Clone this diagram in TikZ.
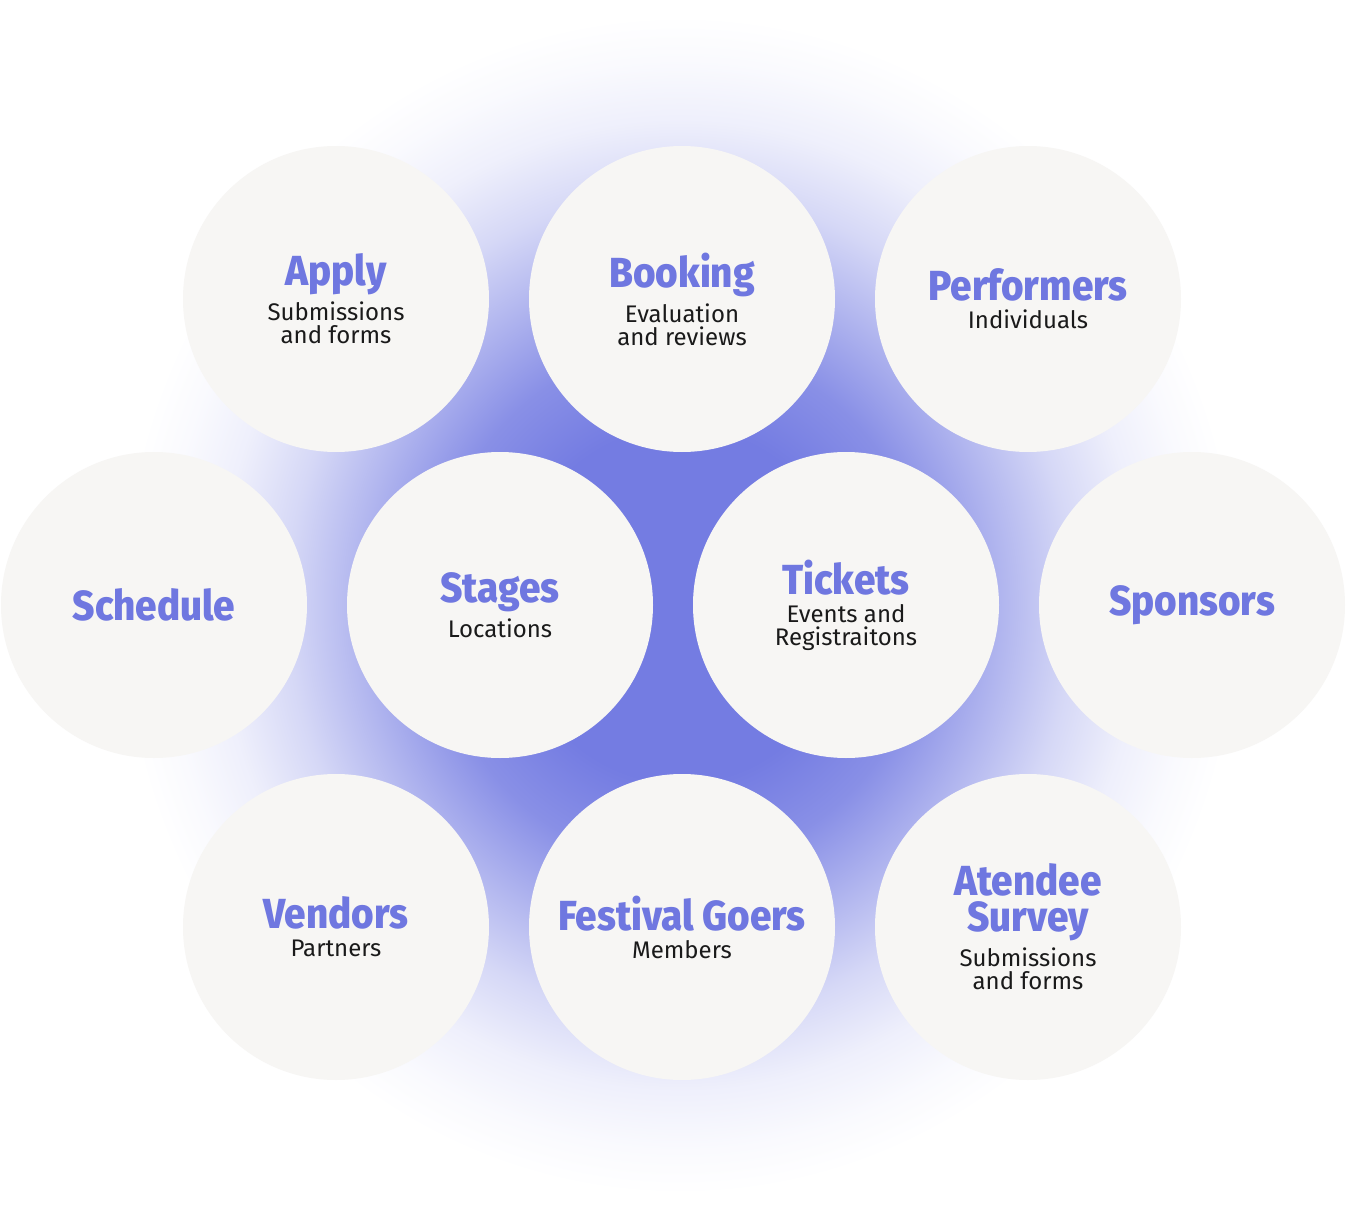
\documentclass[tikz,border=0pt]{standalone}
\usepackage{fontspec}
\setmainfont{Fira Sans}
\newfontfamily\headfam[FakeStretch=0.92,BoldFont={Fira Sans ExtraBold}]{Fira Sans}

\definecolor{glowc}{RGB}{116,124,226}
\definecolor{headc}{RGB}{111,119,224}
\definecolor{bubblec}{RGB}{247,246,244}
\definecolor{subc}{RGB}{26,26,26}

\pgfdeclareradialshading{glow}{\pgfpoint{0bp}{0bp}}{%
  color(0bp)=(glowc); color(7.5bp)=(glowc);
  color(11bp)=(glowc!85!white); color(14.5bp)=(glowc!55!white);
  color(17.5bp)=(glowc!30!white); color(20.5bp)=(glowc!12!white);
  color(23bp)=(glowc!4!white); color(25bp)=(white); color(50bp)=(white)}

\newcommand{\hd}[1]{{\headfam\bfseries\fontsize{21}{16}\selectfont\color{headc}#1}}
\newcommand{\subfont}{\fontsize{12}{11.5}\selectfont}

\tikzset{
  bubble/.style={circle, fill=bubblec, minimum size=153pt, inner sep=0pt,
    align=center, font=\subfont, text=subc}
}

\begin{document}
\begin{tikzpicture}[x=0.5pt,y=-0.5pt]
		%Rahmen
		\useasboundingbox[fill=white] (0,0) rectangle (1346,1210);

		%Leuchten
		\shade[shading=glow] (680,605) ellipse [x radius=560, y radius=590];

		%Kreise
		\foreach \nm/\x/\y/\txt in {
			apply/336/299/{\hd{Apply}\\[2.5pt]Submissions\\and forms},
			booking/682/299/{\hd{Booking}\\[2.5pt]Evaluation\\and reviews},
			performers/1028/299/{\hd{Performers}\\[2.5pt]Individuals},
			schedule/154/605/{\hd{Schedule}},
			stages/500/605/{\hd{Stages}\\[2.5pt]Locations},
			tickets/846/605/{\hd{Tickets}\\[2.5pt]Events and\\Registraitons},
			sponsors/1192/605/{\hd{Sponsors}},
			vendors/336/927/{\hd{Vendors}\\[2.5pt]Partners},
			goers/682/927/{\hd{Festival Goers}\\[2.5pt]Members},
			survey/1028/927/{\hd{Atendee}\\[1.5pt]\hd{Survey}\\[2.5pt]Submissions\\and forms}}
			\node[bubble] (\nm) at (\x,\y) {\txt};
	\end{tikzpicture}
\end{document}
